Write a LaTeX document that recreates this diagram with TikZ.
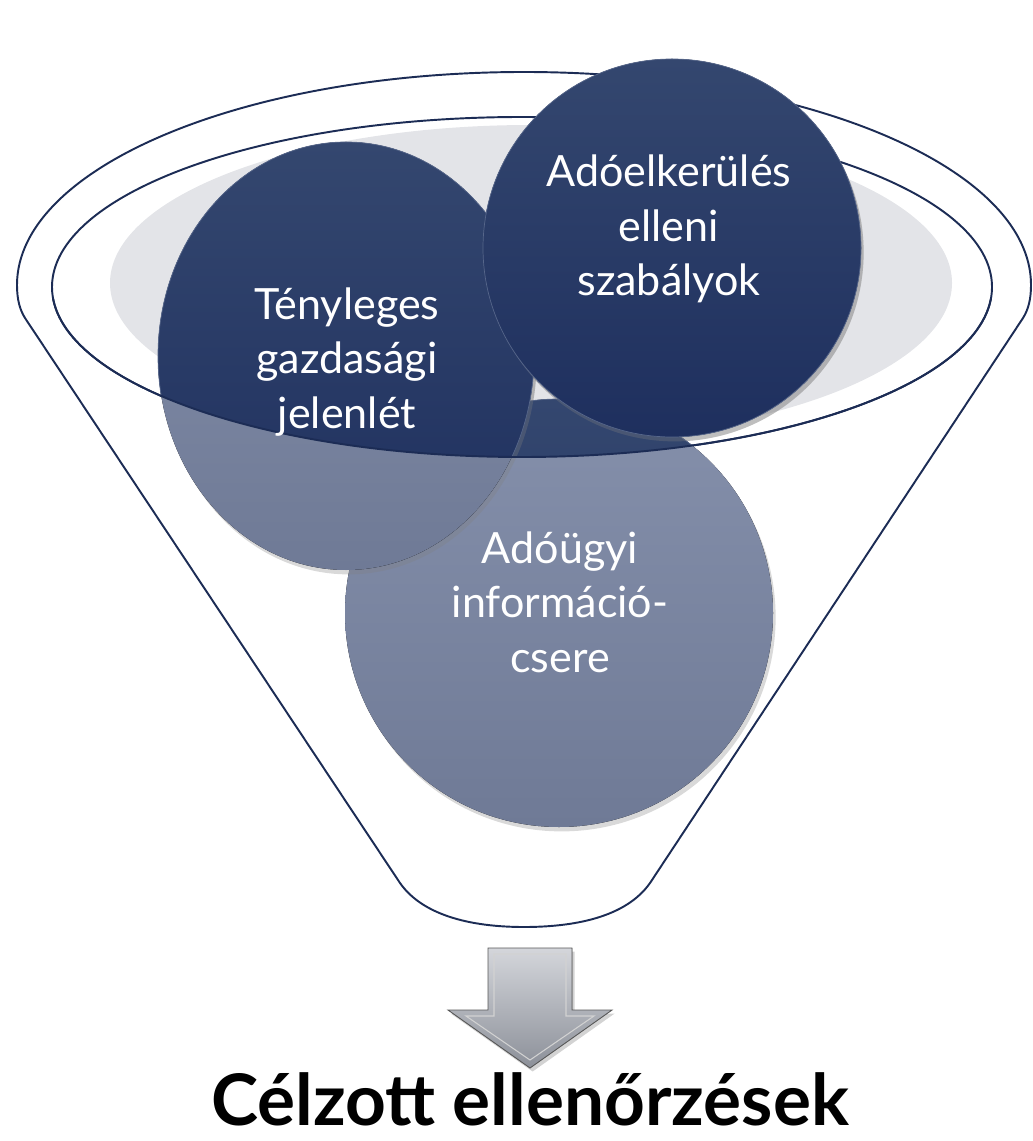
\documentclass[tikz,border=0pt]{standalone}
\usepackage{fontspec}
\setmainfont{Lato}
\usetikzlibrary{shadows}

\definecolor{navytop}{HTML}{34476F}
\definecolor{navybot}{HTML}{1E2F5E}
\definecolor{navyedge}{HTML}{56668A}
\definecolor{steeltop}{HTML}{8590AB}
\definecolor{steelbot}{HTML}{6F7A96}
\definecolor{rimline}{HTML}{1C2C55}
\definecolor{bowlgray}{HTML}{E3E4E8}
\definecolor{arrowtop}{HTML}{D4D6DB}
\definecolor{arrowbot}{HTML}{8C9099}

\tikzset{
  rim/.style={draw=rimline, line width=1.1pt},
  bodylight/.style={top color=steeltop, bottom color=steelbot},
  bodydark/.style={top color=navytop, bottom color=navybot, draw=navyedge, line width=0.4pt},
  softshadow/.style={drop shadow={opacity=0.3, shadow xshift=1.5pt, shadow yshift=-2.5pt}},
  circletext/.style={text=white, align=center, font=\fontsize{24.5}{31}\selectfont},
}

\begin{document}
\begin{tikzpicture}[x=0.02cm, y=-0.02cm]
\useasboundingbox (0,0) rectangle (1032,1141);

% bowl of the funnel
\fill[bowlgray] (531,283) ellipse [x radius=421, y radius=158];
\draw[rim] (522,287) ellipse [x radius=470, y radius=170];
\draw[rim] (1031,285) arc [start angle=0, end angle=-180, x radius=507, y radius=213]
  .. controls (17,300) and (20,310) .. (25,318) -- (398,880)
  .. controls (420,915) and (470,927) .. (524,927)
  .. controls (580,927) and (630,915) .. (652,880)
  -- (1023,318) .. controls (1028,310) and (1031,300) .. (1031,285);

% circles, lower part seen through the funnel
\foreach \cx/\cy/\rx/\ry in {559/613/214/214, 346/356/188/214, 672/248/189/189}
  \fill[bodylight, softshadow] (\cx,\cy) ellipse [x radius=\rx, y radius=\ry];

% circles inside the rim
\begin{scope}
  \clip (522,287) ellipse [x radius=470, y radius=170];
  \foreach \cx/\cy/\rx/\ry in {559/613/214/214, 346/356/188/214}
    \path[bodydark, softshadow] (\cx,\cy) ellipse [x radius=\rx, y radius=\ry];
\end{scope}
\path[bodydark, softshadow] (672,248) ellipse [x radius=189, y radius=189];

% front edge of the rim
\begin{scope}
  \clip (0,300) rectangle (1032,500);
  \draw[rim] (522,287) ellipse [x radius=470, y radius=170];
\end{scope}

\node[circletext] (presence) at (347,362) {Tényleges\\gazdasági\\jelenlét};
\node[circletext] (avoidance) at (669,229) {Adóelkerülés\\elleni\\szabályok};
\node[circletext] (exchange) at (560,602) {Adóügyi\\információ-\\csere};

% arrow down to the result
\fill[top color=arrowtop, bottom color=arrowbot, draw=gray!70!black, line width=0.5pt,
  drop shadow={opacity=0.35, shadow xshift=1.5pt, shadow yshift=-2pt}]
  (488,948) -- (572,948) -- (572,1010) -- (612,1010) -- (530,1068)
  -- (448,1010) -- (488,1010) -- cycle;
\draw[white!65!gray, line width=0.6pt]
  (494,954) -- (566,954) -- (566,1016) -- (594,1016) -- (530,1060)
  -- (466,1016) -- (494,1016) -- cycle;

\node[anchor=base, inner sep=0pt, font=\fontsize{40.5}{48}\selectfont\bfseries] (result)
  at (530,1125) {Célzott ellenőrzések};
\end{tikzpicture}
\end{document}
